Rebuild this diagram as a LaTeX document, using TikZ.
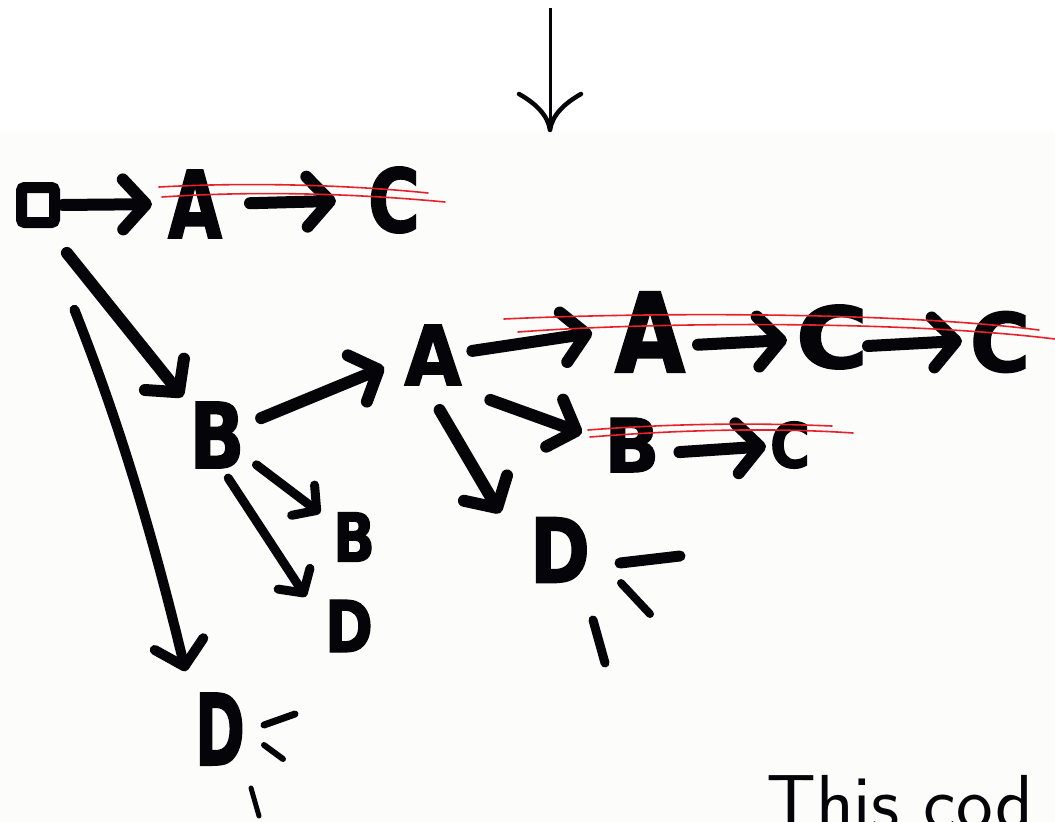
\documentclass[tikz,border=0pt]{standalone}
\usepackage{fontspec}
\usepackage{graphicx}
\usetikzlibrary{arrows.meta,calc}
\newfontfamily\brushfont{DejaVu Sans Bold}[FakeBold=2]
\definecolor{ink}{HTML}{050408}
\definecolor{strike}{HTML}{E8202A}
\definecolor{paper}{HTML}{FCFCFA}
% a brush letter squeezed into a box of the given width and height
\newcommand\brushglyph[3]{\resizebox{#1pt}{#2pt}{\brushfont #3}}
\begin{document}
\begin{tikzpicture}[x=1pt,y=-1pt,
  letter/.style={inner sep=0pt, outer sep=0pt, text=ink},
  startbox/.style={draw=ink, line width=11pt, rounded corners=3pt,
    minimum width=33pt, minimum height=35pt, inner sep=0pt},
  brush/.style={draw=ink, line width=12pt, line cap=round, line join=round,
    -{Straight Barb[length=23pt,width=50pt,round]}},
  thinbrush/.style={brush, line width=9pt,
    -{Straight Barb[length=17pt,width=38pt,round]}},
  strikeout/.style={draw=strike, line width=1.6pt, line cap=round},
  ray/.style={draw=ink, line cap=round}]
\useasboundingbox (0,0) rectangle (1055,822);
\clip (0,0) rectangle (1055,822);
\fill[white] (0,0) rectangle (1055,132);
\fill[paper] (0,132) rectangle (1055,822);

% arrow coming down from above
\coordinate (topfrom) at (550,8);
\coordinate (toptip) at (550,130);
\draw[ink, line width=3pt] (topfrom) -- (toptip);
\draw[ink, line width=4.5pt, line cap=round]
  (toptip) .. controls +(-2,-15) and +(16,9) .. ++(-31,-36)
  (toptip) .. controls +(2,-15) and +(-16,9) .. ++(31,-36);

% nodes of the tree
\node[startbox] (sq) at (38,205) {};
\node[letter] (A1) at (195,204) {\brushglyph{54}{68}{A}};
\node[letter] (C1) at (394,200) {\brushglyph{52}{65}{C}};
\node[letter] (B1) at (217,435) {\brushglyph{55}{66}{B}};
\node[letter] (A2) at (433,355) {\brushglyph{57}{60}{A}};
\node[letter] (A3) at (650,332) {\brushglyph{70}{80}{A}};
\node[letter] (C2) at (832,337) {\brushglyph{72}{63}{C}};
\node[letter] (C3) at (1000,342) {\brushglyph{60}{60}{C}};
\node[letter] (B2) at (632,445) {\brushglyph{55}{54}{B}};
\node[letter] (C4) at (790,445) {\brushglyph{40}{46}{C}};
\node[letter] (D2) at (560,550) {\brushglyph{60}{65}{D}};
\node[letter] (B3) at (354,537) {\brushglyph{42}{49}{B}};
\node[letter] (D3) at (349,626) {\brushglyph{48}{52}{D}};
\node[letter] (D1) at (220,729) {\brushglyph{50}{72}{D}};

% connectors
\draw[brush, shorten <=3pt, shorten >=16pt] (sq.east) -- (A1.west);
\draw[brush, shorten <=28pt, shorten >=32pt] (A1.east) -- (C1.west);
\draw[brush, shorten <=32pt, shorten >=11pt] (sq.-69) -- (B1.133);
\draw[brush, line width=10pt, shorten <=88pt, shorten >=40pt]
  (sq.-80) to[bend left=4] (D1.143);
\draw[brush, shorten <=18pt, shorten >=22pt] (B1.20) -- (A2.188);
\draw[brush, shorten <=11pt, shorten >=23pt] (A2.5) -- (A3.176);
\draw[brush, shorten <=13pt, shorten >=9pt] (A3.-21) -- (C2.184);
\draw[brush, shorten <=0pt, shorten >=8pt] (C2.-14) -- (C3.177);
\draw[brush, shorten <=44pt, shorten >=24pt] (A2.-62) -- (B2.172);
\draw[brush, shorten <=20pt, shorten >=4pt] (B2.-17) -- (C4.183);
\draw[brush, shorten <=29pt, shorten >=59pt] (A2.-105) -- (D2.205);
\draw[thinbrush, shorten <=15pt, shorten >=16pt] (B1.-37) -- (B3.146);
\draw[thinbrush, shorten <=12pt, shorten >=35pt] (B1.-82) -- (D3.180);

% rays next to the two unfinished D branches
\draw[ray, line width=11pt] (620,563) -- (680,556);
\draw[ray, line width=8pt] (621,583) -- (650,614);
\draw[ray, line width=9pt] (593,620) -- (605,663);
\draw[ray, line width=7pt] (264,725) -- (295,714);
\draw[ray, line width=6pt] (264,745) -- (283,759);
\draw[ray, line width=5pt] (251,788) -- (259,816);

% red strike-outs over the discarded paths
\draw[strikeout] (159,187) .. controls (250,182) and (350,185) .. (428,193);
\draw[strikeout] (162,197) .. controls (250,191) and (350,193) .. (445,202);
\draw[strikeout] (504,319) .. controls (650,312) and (900,312) .. (1039,330);
\draw[strikeout] (518,332) .. controls (650,322) and (900,320) .. (1055,339);
\draw[strikeout] (588,430) .. controls (680,423) and (760,423) .. (832,426);
\draw[strikeout] (590,437) .. controls (690,429) and (780,428) .. (853,433);

% caption running off the bottom edge
\node[anchor=base west, inner sep=0pt, text=ink,
  font=\sffamily\fontsize{78}{78}\selectfont] (caption) at (766,829) {This cod};
\end{tikzpicture}
\end{document}
